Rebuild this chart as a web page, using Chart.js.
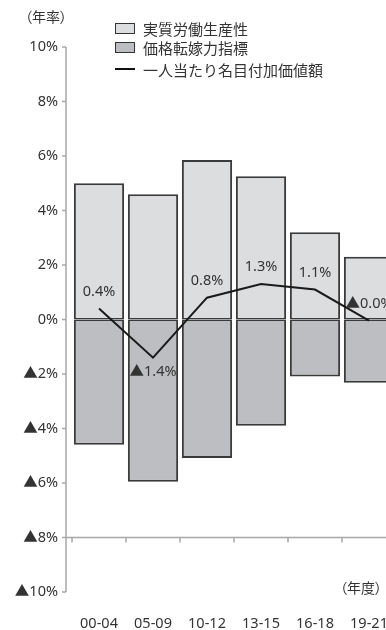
<!DOCTYPE html>
<html>
<head>
<meta charset="utf-8">
<script src="https://cdn.jsdelivr.net/npm/chart.js@4"></script>
<style>
  body { margin: 0; overflow: hidden; background: #fff; }
  #wrap { position: relative; width: 386px; height: 630px; overflow: hidden;
          font-family: 'Noto Sans CJK JP', sans-serif; color: #333; }
  #chart { position: absolute; left: 0; top: 0; }
  .txt { position: absolute; white-space: nowrap; line-height: 1; font-feature-settings: "palt"; }
  .lg { position: absolute; left: 115px; width: 20px; box-sizing: border-box; }
  .lg-box { height: 11px; border: 1.5px solid #333; }
  .lg-line { height: 2px; background: #111; }
  .lg-text { position: absolute; left: 143px; font-size: 15px; line-height: 1; white-space: nowrap; }
</style>
</head>
<body>
<div id="wrap">
  <canvas id="chart" width="386" height="630"></canvas>
  <div class="txt" style="left:25px; top:9px; font-size:14px;">（年率）</div>
  <div class="txt" style="left:340px; top:580px; font-size:14px;">（年度）</div>

  <div class="lg lg-box" style="top:23px; background:#dcdddf;"></div>
  <div class="lg-text" style="top:21px;">実質労働生産性</div>
  <div class="lg lg-box" style="top:42px; background:#bdbec2;"></div>
  <div class="lg-text" style="top:40px;">価格転嫁力指標</div>
  <div class="lg lg-line" style="top:68px;"></div>
  <div class="lg-text" style="top:62px;">一人当たり名目付加価値額</div>
</div>
<script>
const labels = ['00-04', '05-09', '10-12', '13-15', '16-18', '19-21'];
const productivity = [5.0, 4.6, 5.85, 5.26, 3.2, 2.3];
const priceTransfer = [-4.6, -5.95, -5.08, -3.9, -2.09, -2.32];
const valueAdded = [0.4, -1.4, 0.8, 1.3, 1.1, -0.04];
const yTicks = [-10, -8, -6, -4, -2, 0, 2, 4, 6, 8, 10];

const FONT = "'Noto Sans', 'Noto Sans CJK JP', sans-serif";
const PLOT_RIGHT = 396; // 19-21の棒は画面の右端で切れる

// 負の値は▲表記
function pct(v, digits) {
    const s = Math.abs(v).toFixed(digits) + '%';
    return v < 0 ? '▲' + s : s;
}

// 描画領域を右へ広げる
const widenArea = {
    id: 'widenArea',
    afterLayout(chart) {
        const x = chart.scales.x;
        x.right = PLOT_RIGHT;
        x.width = x.right - x.left;
        x.configure();
        chart.chartArea.right = PLOT_RIGHT;
        chart.chartArea.width = PLOT_RIGHT - chart.chartArea.left;
    }
};

// 縦軸・横軸の線（横軸は▲8%の位置）
const axisLines = {
    id: 'axisLines',
    beforeDatasetsDraw(chart) {
        const { ctx, chartArea, scales: { x, y } } = chart;
        const ax = chartArea.left - 6;
        const by = y.getPixelForValue(-8);
        const half = (x.getPixelForValue(1) - x.getPixelForValue(0)) / 2;
        ctx.save();
        ctx.strokeStyle = '#a8a8a8';
        ctx.lineWidth = 1.5;
        ctx.beginPath();
        ctx.moveTo(ax, y.getPixelForValue(10));
        ctx.lineTo(ax, y.getPixelForValue(-10));
        y.ticks.forEach(t => {
            const py = y.getPixelForValue(t.value);
            ctx.moveTo(ax - 4, py);
            ctx.lineTo(ax, py);
        });
        ctx.moveTo(ax, by);
        ctx.lineTo(chartArea.right, by);
        for (let i = 0; i <= labels.length; i++) {
            const px = x.getPixelForValue(i) - half;
            ctx.moveTo(px, by);
            ctx.lineTo(px, by + 5);
        }
        ctx.stroke();
        ctx.restore();
    }
};

// 折れ線のデータラベル
const pointLabels = {
    id: 'pointLabels',
    afterDatasetsDraw(chart) {
        const { ctx } = chart;
        const meta = chart.getDatasetMeta(2);
        ctx.save();
        ctx.font = '14.5px ' + FONT;
        ctx.fillStyle = '#333';
        ctx.textAlign = 'center';
        ctx.textBaseline = 'middle';
        meta.data.forEach((pt, i) => {
            const v = valueAdded[i];
            const dy = v < -1 ? 14 : -17;
            ctx.fillText(pct(v, 1), pt.x, pt.y + dy);
        });
        ctx.restore();
    }
};

const data = {
    labels,
    datasets: [
        {
            label: '実質労働生産性',
            data: productivity,
            backgroundColor: '#dcdddf',
            borderColor: '#3a3a3a',
            borderWidth: { top: 2, left: 2, right: 2, bottom: 1.5 },
            borderSkipped: false,
            barPercentage: 0.93,
            categoryPercentage: 1,
            order: 1
        },
        {
            label: '価格転嫁力指標',
            data: priceTransfer,
            backgroundColor: '#bdbec2',
            borderColor: '#3a3a3a',
            borderWidth: { top: 1.5, left: 2, right: 2, bottom: 2 },
            borderSkipped: false,
            barPercentage: 0.93,
            categoryPercentage: 1,
            order: 1
        },
        {
            type: 'line',
            label: '一人当たり名目付加価値額',
            data: valueAdded,
            borderColor: '#1a1a1a',
            borderWidth: 2,
            pointRadius: 0,
            tension: 0,
            fill: false,
            order: 0
        }
    ]
};

const config = {
    type: 'bar',
    data,
    options: {
        responsive: false,
        devicePixelRatio: 1,
        animation: false,
        layout: { padding: { top: 47, right: 0, left: 0, bottom: 0 } },
        plugins: {
            legend: { display: false },
            tooltip: { enabled: false }
        },
        scales: {
            x: {
                stacked: true,
                grid: { display: false, drawTicks: false },
                border: { display: false },
                ticks: { font: { family: FONT, size: 14.5 }, color: '#333', padding: 23 },
                afterFit(s) { s.height = 38; }
            },
            y: {
                stacked: true,
                min: -10,
                max: 10,
                grid: { display: false, drawTicks: false },
                border: { display: false },
                afterBuildTicks(s) { s.ticks = yTicks.map(v => ({ value: v })); },
                ticks: {
                    font: { family: FONT, size: 14.5 },
                    color: '#333',
                    padding: 14,
                    callback: v => pct(v, 0)
                },
                afterFit(s) { s.width = 72; }
            }
        }
    },
    plugins: [widenArea, axisLines, pointLabels]
};

const chart1 = new Chart(document.getElementById('chart'), config);
</script>
</body>
</html>
